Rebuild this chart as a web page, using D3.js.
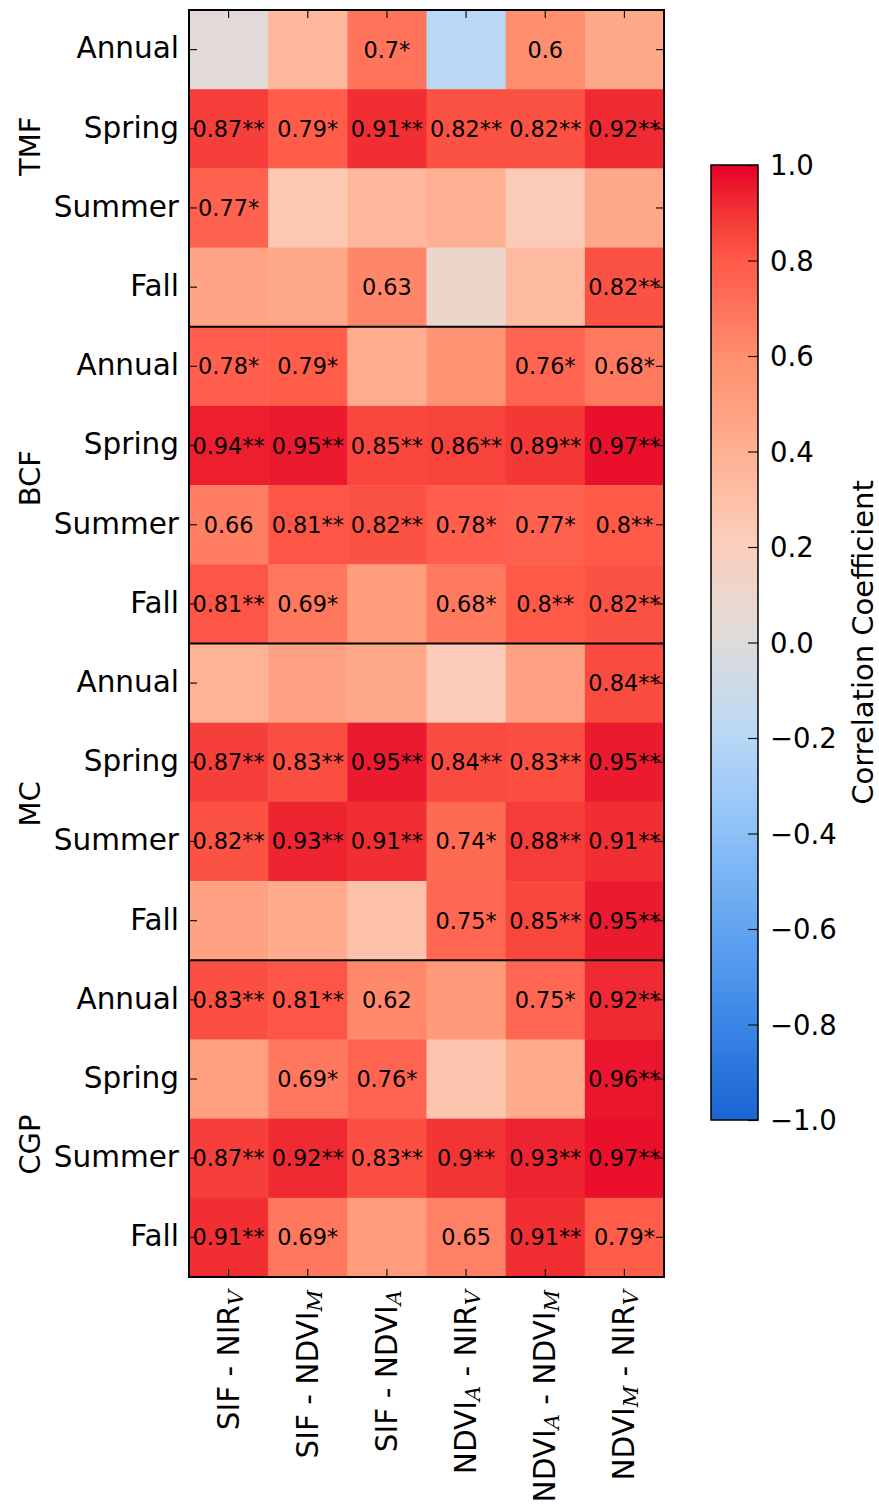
<!DOCTYPE html>
<html>
<head>
<meta charset="utf-8">
<script src="https://cdn.jsdelivr.net/npm/d3@7"></script>
<style>
  html, body { margin: 0; padding: 0; background: #fff; }
  svg { display: block; }
  text { font-family: "DejaVu Sans", sans-serif; fill: #000; }
</style>
</head>
<body>
<svg id="chart" width="879" height="1506"></svg>
<script>
// Forest types, each with four periods
const groups = ["TMF", "BCF", "MC", "CGP"];
const periods = ["Annual", "Spring", "Summer", "Fall"];

// Variable pairs: each label is a list of [text, subscript] pieces
const pairs = [
  [["SIF - NIR", "V"]],
  [["SIF - NDVI", "M"]],
  [["SIF - NDVI", "A"]],
  [["NDVI", "A"], [" - NIR", "V"]],
  [["NDVI", "A"], [" - NDVI", "M"]],
  [["NDVI", "M"], [" - NIR", "V"]]
];

// Correlation coefficients, rows = periods, columns = pairs
const tmfValues = [
  [0.03, 0.35, 0.7, -0.2, 0.6, 0.45],
  [0.87, 0.79, 0.91, 0.82, 0.82, 0.92],
  [0.77, 0.25, 0.35, 0.4, 0.23, 0.45],
  [0.47, 0.45, 0.63, 0.1, 0.33, 0.82]
];
const bcfValues = [
  [0.78, 0.79, 0.42, 0.57, 0.76, 0.68],
  [0.94, 0.95, 0.85, 0.86, 0.89, 0.97],
  [0.66, 0.81, 0.82, 0.78, 0.77, 0.8],
  [0.81, 0.69, 0.52, 0.68, 0.8, 0.82]
];
const mcValues = [
  [0.38, 0.48, 0.45, 0.22, 0.48, 0.84],
  [0.87, 0.83, 0.95, 0.84, 0.83, 0.95],
  [0.82, 0.93, 0.91, 0.74, 0.88, 0.91],
  [0.48, 0.43, 0.3, 0.75, 0.85, 0.95]
];
const cgpValues = [
  [0.83, 0.81, 0.62, 0.53, 0.75, 0.92],
  [0.5, 0.69, 0.76, 0.27, 0.43, 0.96],
  [0.87, 0.92, 0.83, 0.9, 0.93, 0.97],
  [0.91, 0.69, 0.52, 0.65, 0.91, 0.79]
];

// Significance level (number of asterisks)
const tmfStars = [
  [0, 0, 1, 0, 0, 0],
  [2, 1, 2, 2, 2, 2],
  [1, 0, 0, 0, 0, 0],
  [0, 0, 0, 0, 0, 2]
];
const bcfStars = [
  [1, 1, 0, 0, 1, 1],
  [2, 2, 2, 2, 2, 2],
  [0, 2, 2, 1, 1, 2],
  [2, 1, 0, 1, 2, 2]
];
const mcStars = [
  [0, 0, 0, 0, 0, 2],
  [2, 2, 2, 2, 2, 2],
  [2, 2, 2, 1, 2, 2],
  [0, 0, 0, 1, 2, 2]
];
const cgpStars = [
  [2, 2, 0, 0, 1, 2],
  [0, 1, 1, 0, 0, 2],
  [2, 2, 2, 2, 2, 2],
  [2, 1, 0, 0, 2, 1]
];

// Values below this are left unlabelled
const labelThreshold = 0.6;

const colorbarTicks = [-1, -0.8, -0.6, -0.4, -0.2, 0, 0.2, 0.4, 0.6, 0.8, 1];

// ---------------------------------------------------------------------------
(function draw() {
  const valueBlocks = [tmfValues, bcfValues, mcValues, cgpValues];
  const starBlocks = [tmfStars, bcfStars, mcStars, cgpStars];

  const cells = [];
  valueBlocks.forEach((block, g) => {
    block.forEach((row, p) => {
      row.forEach((v, c) => {
        cells.push({ row: g * 4 + p, col: c, value: v, stars: starBlocks[g][p][c] });
      });
    });
  });

  const svg = d3.select("#chart");

  const mLeft = 189, mRight = 664, mTop = 10, mBottom = 1277;
  const x = d3.scaleBand().domain(d3.range(pairs.length)).range([mLeft, mRight]);
  const y = d3.scaleBand().domain(d3.range(groups.length * periods.length)).range([mTop, mBottom]);

  // Diverging blue – grey – red palette
  const color = d3.scaleLinear()
    .domain([-1, -0.8, -0.6, -0.4, -0.2, 0, 0.2, 0.4, 0.6, 0.8, 0.9, 1])
    .range(["#1a64d2", "#3a86e6", "#62a4f0", "#8cc0f6", "#b8d8f6", "#dddcda",
            "#fbd0bd", "#ffb092", "#ff8e6e", "#ff5a48", "#f23434", "#e60028"])
    .interpolate(d3.interpolateRgb)
    .clamp(true);

  // Heatmap cells
  svg.append("g")
    .selectAll("rect")
    .data(cells)
    .join("rect")
    .attr("x", d => x(d.col))
    .attr("y", d => y(d.row))
    .attr("width", x.bandwidth() + 0.5)
    .attr("height", y.bandwidth() + 0.5)
    .attr("fill", d => color(d.value));

  // Ticks on all four sides, pointing inward
  const tickStyle = g => {
    g.select(".domain").remove();
    g.selectAll(".tick line").attr("stroke", "#111").attr("stroke-width", 1.2);
  };
  svg.append("g").attr("transform", `translate(0,${mTop})`)
    .call(d3.axisTop(x).tickSize(-8).tickFormat("")).call(tickStyle);
  svg.append("g").attr("transform", `translate(0,${mBottom})`)
    .call(d3.axisBottom(x).tickSize(-8).tickFormat("")).call(tickStyle);
  svg.append("g").attr("transform", `translate(${mRight},0)`)
    .call(d3.axisRight(y).tickSize(-8).tickFormat("")).call(tickStyle);
  svg.append("g").attr("transform", `translate(${mLeft},0)`)
    .call(d3.axisLeft(y).tickSize(-8).tickPadding(10).tickFormat(i => periods[i % periods.length]))
    .call(tickStyle)
    .call(g => g.selectAll(".tick text")
      .attr("font-size", 29.5).attr("font-family", "DejaVu Sans").attr("fill", "#000").attr("dy", "0.3em"));

  // Value labels
  svg.append("g")
    .selectAll("text")
    .data(cells.filter(d => d.value >= labelThreshold))
    .join("text")
    .attr("x", d => x(d.col) + x.bandwidth() / 2)
    .attr("y", d => y(d.row) + y.bandwidth() / 2 + 8)
    .attr("text-anchor", "middle")
    .attr("font-size", 22.4)
    .text(d => String(d.value) + "*".repeat(d.stars));

  // Frame and group separators
  svg.append("g")
    .selectAll("line")
    .data(d3.range(1, groups.length))
    .join("line")
    .attr("x1", mLeft).attr("x2", mRight)
    .attr("y1", g => y(g * periods.length))
    .attr("y2", g => y(g * periods.length))
    .attr("stroke", "#000").attr("stroke-width", 2);
  svg.append("rect")
    .attr("x", mLeft).attr("y", mTop)
    .attr("width", mRight - mLeft).attr("height", mBottom - mTop)
    .attr("fill", "none").attr("stroke", "#000").attr("stroke-width", 2);

  // Group names
  const groupShift = [-22, -7, 2, 26];
  svg.append("g")
    .selectAll("text")
    .data(groups)
    .join("text")
    .attr("transform", (g, i) => {
      const cy = y(i * periods.length) + y.bandwidth() * periods.length / 2 + groupShift[i];
      return `translate(40,${cy}) rotate(-90)`;
    })
    .attr("text-anchor", "middle")
    .attr("font-size", 29)
    .text(d => d);

  // Pair names, rotated, with mathtext-style subscripts
  const colLabels = svg.append("g")
    .selectAll("text")
    .data(pairs)
    .join("text")
    .attr("transform", (d, i) => `translate(${x(i) + x.bandwidth() / 2 + 10},1290) rotate(-90)`)
    .attr("text-anchor", "end")
    .attr("font-size", 29.5);
  colLabels.each(function (pieces) {
    const t = d3.select(this);
    pieces.forEach(([main, sub], k) => {
      t.append("tspan").attr("dy", k === 0 ? 0 : -4).text(main);
      t.append("tspan")
        .attr("font-family", "'DejaVu Serif', 'Liberation Serif', serif")
        .attr("font-style", "italic")
        .attr("font-size", 21)
        .attr("dy", 4)
        .text(sub);
    });
  });

  // Colorbar
  const cbX = 711, cbW = 47, cbTop = 165, cbBottom = 1120;
  const cScale = d3.scaleLinear().domain([-1, 1]).range([cbBottom, cbTop]);

  const grad = svg.append("defs").append("linearGradient")
    .attr("id", "cbGrad")
    .attr("x1", 0).attr("y1", 1).attr("x2", 0).attr("y2", 0);
  grad.selectAll("stop")
    .data(d3.range(0, 1.0001, 0.02))
    .join("stop")
    .attr("offset", t => t)
    .attr("stop-color", t => color(-1 + 2 * t));

  svg.append("rect")
    .attr("x", cbX).attr("y", cbTop)
    .attr("width", cbW).attr("height", cbBottom - cbTop)
    .attr("fill", "url(#cbGrad)");

  svg.append("g")
    .attr("transform", `translate(${cbX + cbW},0)`)
    .call(d3.axisRight(cScale).tickValues(colorbarTicks).tickSize(-10).tickPadding(12).tickFormat(d3.format(".1f")))
    .call(tickStyle)
    .call(g => g.selectAll(".tick text")
      .attr("font-size", 27.5).attr("font-family", "DejaVu Sans").attr("fill", "#000").attr("dy", "0.36em"));

  svg.append("rect")
    .attr("x", cbX).attr("y", cbTop)
    .attr("width", cbW).attr("height", cbBottom - cbTop)
    .attr("fill", "none").attr("stroke", "#000").attr("stroke-width", 1.5);

  svg.append("text")
    .attr("transform", `translate(873,${(cbTop + cbBottom) / 2}) rotate(-90)`)
    .attr("text-anchor", "middle")
    .attr("font-size", 29)
    .text("Correlation Coefficient");
})();
</script>
</body>
</html>
